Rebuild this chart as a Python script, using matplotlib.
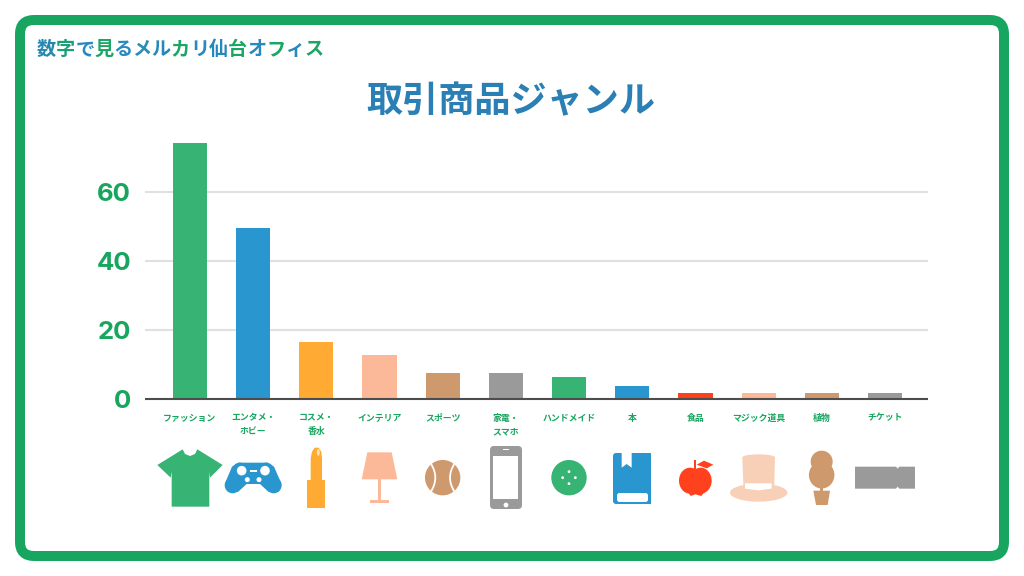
import matplotlib
matplotlib.use('Agg')
from matplotlib import pyplot as plt
from matplotlib.patches import Circle, Ellipse, FancyBboxPatch, Polygon, PathPatch
from matplotlib.path import Path

plt.rcParams['font.family'] = ['Noto Sans CJK JP', 'DejaVu Sans']

categories = ['ファッション', 'エンタメ・\nホビー', 'コスメ・\n香水', 'インテリア', 'スポーツ', '家電・\nスマホ',
              'ハンドメイド', '本', '食品', 'マジック道具', '植物', 'チケット']
values = [74.2, 49.6, 16.6, 12.8, 7.4, 7.4, 6.4, 3.8, 1.8, 1.8, 1.8, 1.8]
y_ticks = [0, 20, 40, 60]

GREEN = '#37b374'
BLUE = '#2a96cf'
ORANGE = '#ffab33'
PEACH = '#fbb999'
TAN = '#cf996e'
GRAY = '#9a9a9a'
RED = '#ff421d'
HAT = '#f8d0b8'
FRAME = '#17a55f'
bar_colors = [GREEN, BLUE, ORANGE, PEACH, TAN, GRAY, GREEN, BLUE, RED, PEACH, TAN, GRAY]

header = '数字で見るメルカリ仙台オフィス'
header_colors = ['#2488b0', '#1c9f78', '#2a88c0', '#1ca565', '#2a88c0', '#2a8cb8', '#2488b8', '#1ca565',
                 '#2a88c0', '#2488b8', '#1ca565', '#2a88c0', '#1ca565', '#2a88c0', '#1ca565']

fig = plt.figure(figsize=(10.24, 5.76), dpi=100)

# pixel overlay for frame, titles and icons
bg = fig.add_axes([0, 0, 1, 1])
bg.set_xlim(0, 1024)
bg.set_ylim(576, 0)
bg.axis('off')
bg.add_patch(FancyBboxPatch((34, 34), 956, 508, boxstyle='round,pad=14,rounding_size=14',
                            fc='white', ec=FRAME, lw=7.2))

ax = fig.add_axes([145 / 1024, 1 - 399 / 576, (928 - 145) / 1024, (399 - 130) / 576])
ax.patch.set_alpha(0)
ax.bar(range(len(values)), values, width=0.54, color=bar_colors, zorder=3)
ax.set_xlim(-0.71, 11.68)
ax.set_ylim(0, 269 / 3.45)
ax.set_yticks(y_ticks)
ax.set_xticks(range(len(categories)))
ax.set_xticklabels(categories, fontsize=6.4, color=FRAME, fontweight='bold', linespacing=1.65)
ax.tick_params(axis='x', length=0, pad=10.5)
ax.tick_params(axis='y', length=0, pad=10, labelcolor=FRAME)
for t in ax.get_yticklabels():
    t.set_fontsize(18.5)
    t.set_fontweight('bold')
    t.set_family(['Inter', 'DejaVu Sans'])
ax.grid(axis='y', color='#e0e0e0', lw=1.5, zorder=0)
for s in ['top', 'right', 'left']:
    ax.spines[s].set_visible(False)
ax.spines['bottom'].set_color('#4d4d4d')
ax.spines['bottom'].set_linewidth(1.5)
ax.spines['bottom'].set_zorder(5)
ax.spines['bottom'].set_capstyle('butt')

bg.text(511, 102, '取引商品ジャンル', fontsize=26, fontweight='bold', color='#2a7fb5', ha='center', va='center')

# header, one colour per character
renderer = fig.canvas.get_renderer()
x = 37
for ch, col in zip(header, header_colors):
    t = bg.text(x, 49.5, ch, fontsize=13.8, fontweight='bold', color=col, ha='left', va='center')
    x += t.get_window_extent(renderer).width


def z1(pts):
    return [(140 + a / 3, 400 + b / 3) for a, b in pts]


def z2(pts):
    return [(530 + a / 3, 400 + b / 3) for a, b in pts]


def poly(pts, color):
    bg.add_patch(Polygon(pts, closed=True, fc=color, ec='none'))


def dot(c, r, color):
    bg.add_patch(Circle(c, r, fc=color, ec='none'))


def oval(c, w, h, color):
    bg.add_patch(Ellipse(c, w, h, fc=color, ec='none'))


def box(x0, y0, x1, y1, color, r=0):
    bg.add_patch(FancyBboxPatch((x0 + r, y0 + r), x1 - x0 - 2 * r, y1 - y0 - 2 * r,
                                boxstyle='round,pad=%f,rounding_size=%f' % (r, r), fc=color, ec='none'))


def curve(p0, p1, p2, color, lw):
    bg.add_patch(PathPatch(Path([p0, p1, p2], [Path.MOVETO, Path.CURVE3, Path.CURVE3]), fc='none', ec=color, lw=lw))


# t-shirt
poly(z1([(128, 148), (52, 195), (92, 233), (95, 215), (95, 320), (208, 320), (208, 215), (210, 233), (248, 195),
         (172, 148), (165, 162), (150, 168), (135, 162)]), GREEN)

# game pad
for p in [(300, 212), (378, 212)]:
    dot(z1([p])[0], 8, BLUE)
for p in [(278, 256), (401, 256)]:
    dot(z1([p])[0], 8, BLUE)
poly(z1([(295, 188), (383, 188), (402, 200), (424, 250), (415, 275), (385, 275), (360, 252), (320, 252), (295, 275),
         (265, 275), (255, 250), (276, 200)]), BLUE)
dot(z1([(305, 212)])[0], 4.8, 'white')
dot(z1([(375, 212)])[0], 4.8, 'white')
dot(z1([(322, 239)])[0], 2.5, 'white')
dot(z1([(357, 239)])[0], 2.5, 'white')
poly(z1([(329, 211), (351, 211), (351, 215), (329, 215)]), 'white')

# lipstick
poly(z1([(502, 240), (555, 240), (555, 325), (502, 325)]), ORANGE)
poly(z1([(512, 240), (512, 175), (516, 155), (524, 143), (536, 143), (544, 155), (546, 175), (546, 240)]), ORANGE)
oval(z1([(535, 157)])[0], 3, 7, '#ffe0b0')

# lamp
poly(z1([(682, 157), (755, 157), (772, 238), (665, 238)]), PEACH)
poly(z1([(713, 238), (724, 238), (724, 300), (713, 300)]), PEACH)
poly(z1([(690, 300), (748, 300), (748, 310), (690, 310)]), PEACH)

# ball
dot(z1([(908, 233)])[0], 17.7, TAN)
curve(*z1([(872, 190), (900, 233), (872, 276)]), 'white', 1.3)
curve(*z1([(944, 190), (916, 233), (944, 276)]), 'white', 1.3)

# phone
box(490, 446, 522, 509, GRAY, 4)
poly(z1([(1060, 168), (1135, 168), (1135, 298), (1060, 298)]), 'white')
dot(z1([(1098, 315)])[0], 2.4, 'white')
poly(z1([(1088, 146), (1108, 146), (1108, 151), (1088, 151)]), 'white')

# button
dot(z2([(117, 233)])[0], 17.7, GREEN)
for p in [(117, 215), (98, 233), (136, 233), (117, 251)]:
    dot(z2([p])[0], 1.4, 'white')

# book
box(613, 453, 651, 504, BLUE, 3)
poly(z2([(340, 158), (362, 158), (362, 312), (340, 312)]), BLUE)
box(617, 493, 648, 502, 'white', 2.5)
poly(z2([(275, 155), (305, 155), (305, 203), (290, 192), (275, 203)]), 'white')

# apple
oval(z2([(480, 242)])[0], 22, 26, RED)
oval(z2([(512, 242)])[0], 22, 26, RED)
poly(z2([(468, 268), (482, 288), (496, 283), (514, 288), (530, 268), (520, 215), (475, 215)]), RED)
poly(z2([(492, 180), (497, 180), (497, 207), (492, 207)]), RED)
poly(z2([(500, 194), (522, 182), (550, 194), (530, 205)]), RED)

# hat
oval(z2([(686, 278)])[0], 57.5, 18, HAT)
poly(z2([(637, 172), (735, 172), (733, 255), (640, 255)]), HAT)
oval(z2([(686, 172)])[0], 32.6, 6, HAT)
poly(z2([(645, 250), (725, 250), (725, 266), (686, 271), (645, 266)]), 'white')

# plant
dot(z2([(875, 185)])[0], 11, TAN)
oval(z2([(875, 225)])[0], 25.5, 27, TAN)
poly(z2([(870, 250), (880, 250), (880, 275), (870, 275)]), TAN)
poly(z2([(850, 272), (900, 272), (893, 315), (858, 315)]), TAN)

# ticket
poly(z2([(975, 200), (1098, 200), (1103, 206), (1108, 200), (1155, 200), (1155, 266), (1108, 266), (1103, 260),
         (1098, 266), (975, 266)]), GRAY)

plt.savefig('out.png', dpi=100)
